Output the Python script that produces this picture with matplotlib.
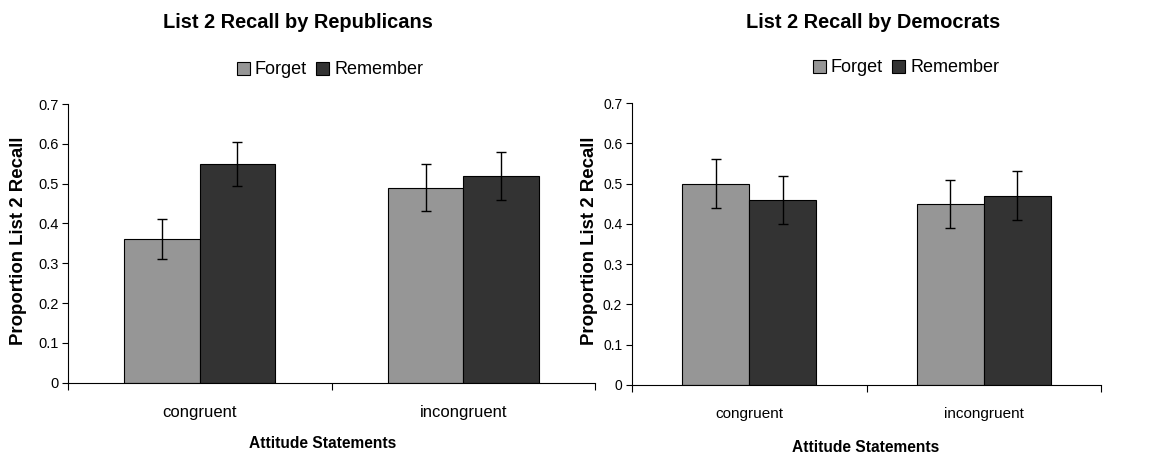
import matplotlib.pyplot as plt
import numpy as np
from matplotlib.patches import Patch
from matplotlib.ticker import FuncFormatter

plt.rcParams['font.family'] = ['Liberation Sans', 'DejaVu Sans']

# proportion of list 2 items recalled, per instruction group
categorias = ['congruent', 'incongruent']
grupos = ['Forget', 'Remember']

rep_forget = [0.36, 0.49]
rep_remember = [0.55, 0.52]
rep_err_forget = [0.05, 0.06]
rep_err_remember = [0.055, 0.06]

dem_forget = [0.50, 0.45]
dem_remember = [0.46, 0.47]
dem_err_forget = [0.06, 0.06]
dem_err_remember = [0.06, 0.06]

color_forget = '#969696'
color_remember = '#333333'


def panel(ax, forget, remember, err_f, err_r, tick_fs, cat_fs):
    x = np.arange(len(categorias))
    w = 1 / 3.5
    ax.bar(x - w / 2, forget, w, color=color_forget, edgecolor='black', linewidth=0.8)
    ax.bar(x + w / 2, remember, w, color=color_remember, edgecolor='black', linewidth=0.8)
    ax.errorbar(x - w / 2, forget, yerr=err_f, fmt='none', ecolor='black',
                elinewidth=1, capsize=3.5, capthick=1)
    ax.errorbar(x + w / 2, remember, yerr=err_r, fmt='none', ecolor='black',
                elinewidth=1, capsize=3.5, capthick=1)

    ax.set_xlim(-0.5, len(categorias) - 0.5)
    ax.set_ylim(0, 0.7)
    ax.set_yticks(np.arange(0, 0.71, 0.1))
    ax.yaxis.set_major_formatter(FuncFormatter(lambda v, p: '0' if abs(v) < 1e-9 else f'{v:.1f}'))

    # category separators as major ticks, names as minor ticks
    ax.set_xticks(np.arange(-0.5, len(categorias), 1.0))
    ax.set_xticklabels([])
    ax.set_xticks(x, minor=True)
    ax.set_xticklabels(categorias, minor=True, fontsize=cat_fs)
    ax.tick_params(axis='x', which='minor', length=0, pad=16)
    ax.tick_params(axis='x', which='major', length=5, width=0.8, direction='out')
    ax.tick_params(axis='y', length=4, width=0.8, labelsize=tick_fs, pad=3)

    for s in ['top', 'right']:
        ax.spines[s].set_visible(False)
    for s in ['left', 'bottom']:
        ax.spines[s].set_linewidth(0.8)


fig = plt.figure(figsize=(11.75, 4.57), dpi=100)
W, H = 1175, 457

ax1 = fig.add_axes([68 / W, 1 - 382.7 / H, 527 / W, 278.7 / H])
ax2 = fig.add_axes([632 / W, 1 - 385 / H, 469 / W, 282 / H])

panel(ax1, rep_forget, rep_remember, rep_err_forget, rep_err_remember, 10.5, 12)
panel(ax2, dem_forget, dem_remember, dem_err_forget, dem_err_remember, 10, 11)

fig.text(298 / W, 1 - 22 / H, 'List 2 Recall by Republicans', ha='center', va='center',
         fontsize=14.4, fontweight='bold')
fig.text(873 / W, 1 - 22 / H, 'List 2 Recall by Democrats', ha='center', va='center',
         fontsize=14.4, fontweight='bold')

fig.text(323 / W, 1 - 443 / H, 'Attitude Statements', ha='center', va='center',
         fontsize=11.2, fontweight='bold')
fig.text(866 / W, 1 - 447 / H, 'Attitude Statements', ha='center', va='center',
         fontsize=11.2, fontweight='bold')

fig.text(19 / W, 1 - 241 / H, 'Proportion List 2 Recall', ha='center', va='center',
         rotation=90, fontsize=13.4, fontweight='bold')
fig.text(590 / W, 1 - 241 / H, 'Proportion List 2 Recall', ha='center', va='center',
         rotation=90, fontsize=13.4, fontweight='bold')

handles = [Patch(facecolor=color_forget, edgecolor='black', linewidth=0.8),
           Patch(facecolor=color_remember, edgecolor='black', linewidth=0.8)]
for cx, cy in [(330, 70), (906, 68)]:
    fig.legend(handles, grupos, loc='center', bbox_to_anchor=(cx / W, 1 - cy / H),
               ncol=2, frameon=False, fontsize=13, handlelength=0.7, handleheight=0.7,
               handletextpad=0.3, columnspacing=0.5, borderpad=0)

plt.savefig('out.png', dpi=100)
